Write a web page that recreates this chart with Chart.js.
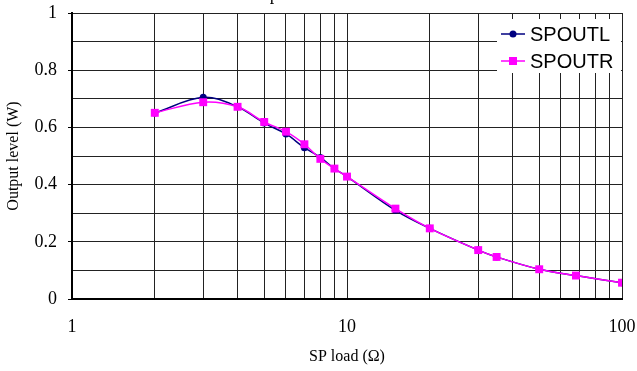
<!DOCTYPE html>
<html>
<head>
<meta charset="utf-8">
<script src="https://cdn.jsdelivr.net/npm/chart.js@4.4.1/dist/chart.umd.min.js"></script>
<style>
  body { margin: 0; background: #fff; }
  #wrap { width: 637px; height: 371px; }
</style>
</head>
<body>
<div id="wrap"><canvas id="grafico" width="637" height="371"></canvas></div>
<script>
// SP load in ohms
var cargas = [2, 3, 4, 5, 6, 7, 8, 9, 10, 15, 20, 30, 35, 50, 68, 100];
// output level (W)
var spoutl = [0.65, 0.705, 0.672, 0.615, 0.577, 0.529, 0.495, 0.456, 0.428, 0.31, 0.247, 0.171, 0.147, 0.104, 0.082, 0.057];
var spoutr = [0.651, 0.688, 0.672, 0.619, 0.585, 0.541, 0.49, 0.456, 0.428, 0.316, 0.247, 0.171, 0.147, 0.104, 0.082, 0.057];
// log grid lines and labelled ticks
var gradeX = [1, 2, 3, 4, 5, 6, 7, 8, 9, 10, 20, 30, 40, 50, 60, 70, 80, 90, 100];
var rotulosX = [1, 10, 100];
var titulo = "Output level vs. SP load";

function pontos(ys) {
    return cargas.map(function (x, i) { return { x: x, y: ys[i] }; });
}

var serif = "'Liberation Serif', 'Times New Roman', serif";

// title sits above the canvas, only the descenders show
var tituloPlugin = {
    id: 'tituloCortado',
    afterDraw: function (chart) {
        var ctx = chart.ctx;
        ctx.save();
        ctx.font = "18px " + serif;
        ctx.fillStyle = '#000';
        ctx.textAlign = 'center';
        ctx.textBaseline = 'alphabetic';
        ctx.fillText(titulo, 330, 0);
        ctx.restore();
    }
};

// legend box inside the plot, top right
var legendaPlugin = {
    id: 'legendaInterna',
    afterDatasetsDraw: function (chart) {
        var ctx = chart.ctx;
        var area = chart.chartArea;
        var x0 = area.right - 125, y0 = area.top + 6;
        ctx.save();
        ctx.fillStyle = '#fff';
        ctx.fillRect(x0, y0, 124, 54);
        chart.data.datasets.forEach(function (ds, i) {
            var y = y0 + 15 + i * 27;
            var lx = x0 + 4;
            ctx.strokeStyle = ds.borderColor;
            ctx.lineWidth = 1.5;
            ctx.beginPath();
            ctx.moveTo(lx, y);
            ctx.lineTo(lx + 24, y);
            ctx.stroke();
            ctx.fillStyle = ds.backgroundColor;
            if (ds.pointStyle === 'rect') {
                ctx.fillRect(lx + 12 - 4, y - 4, 8, 8);
            } else {
                ctx.beginPath();
                ctx.arc(lx + 12, y, 3.5, 0, Math.PI * 2);
                ctx.fill();
            }
            ctx.fillStyle = '#000';
            ctx.font = "20px 'Liberation Sans', Arial, sans-serif";
            ctx.textAlign = 'left';
            ctx.textBaseline = 'middle';
            ctx.fillText(ds.label, lx + 29, y + 1);
        });
        ctx.restore();
    }
};

new Chart(document.getElementById("grafico"), {
    type: 'line',
    data: {
        datasets: [
            {
                label: "SPOUTL",
                data: pontos(spoutl),
                borderColor: '#000080',
                backgroundColor: '#000080',
                borderWidth: 1.5,
                pointStyle: 'circle',
                pointRadius: 3.5,
                pointBorderWidth: 0,
                tension: 0.35,
                order: 1
            },
            {
                label: "SPOUTR",
                data: pontos(spoutr),
                borderColor: '#ff00ff',
                backgroundColor: '#ff00ff',
                borderWidth: 1.5,
                pointStyle: 'rect',
                pointRadius: 5.6,
                pointBorderWidth: 0,
                tension: 0.35,
                order: 0
            }
        ]
    },
    options: {
        responsive: false,
        animation: false,
        layout: { padding: { top: 13, right: 15, left: 0, bottom: 0 } },
        plugins: {
            legend: { display: false },
            tooltip: { enabled: false }
        },
        scales: {
            x: {
                type: 'logarithmic',
                min: 1,
                max: 100,
                afterBuildTicks: function (scale) {
                    scale.ticks = gradeX.map(function (v) { return { value: v }; });
                },
                afterFit: function (scale) {
                    scale.height = 72;
                    scale.paddingLeft = 0;
                    scale.paddingRight = 0;
                },
                grid: { color: '#222', lineWidth: 1, drawTicks: false },
                border: { color: '#000', width: 2 },
                ticks: {
                    autoSkip: false,
                    maxRotation: 0,
                    padding: 17,
                    color: '#000',
                    font: { family: serif, size: 18 },
                    callback: function (v) {
                        return rotulosX.indexOf(v) >= 0 ? String(v) : '';
                    }
                },
                title: {
                    display: true,
                    text: 'SP load (\u03A9)',
                    color: '#000',
                    font: { family: serif, size: 16 },
                    padding: { top: 0, bottom: 5 }
                }
            },
            y: {
                min: 0,
                max: 1,
                afterFit: function (scale) {
                    scale.width = 72;
                    scale.paddingTop = 0;
                    scale.paddingBottom = 0;
                },
                grid: {
                    color: '#222',
                    lineWidth: 1,
                    tickLength: 4,
                    tickColor: function (c) {
                        return Math.round(c.tick.value * 10) % 2 === 0 ? '#000' : 'rgba(0,0,0,0)';
                    }
                },
                border: { color: '#000', width: 2 },
                ticks: {
                    stepSize: 0.1,
                    padding: 11,
                    color: '#000',
                    font: { family: serif, size: 18 },
                    callback: function (v) {
                        var d = Math.round(v * 10);
                        return d % 2 === 0 ? String(d / 10) : '';
                    }
                },
                title: {
                    display: true,
                    text: 'Output level (W)',
                    color: '#000',
                    font: { family: serif, size: 16 },
                    padding: { top: 4, bottom: 0 }
                }
            }
        }
    },
    plugins: [legendaPlugin, tituloPlugin]
});
</script>
</body>
</html>
